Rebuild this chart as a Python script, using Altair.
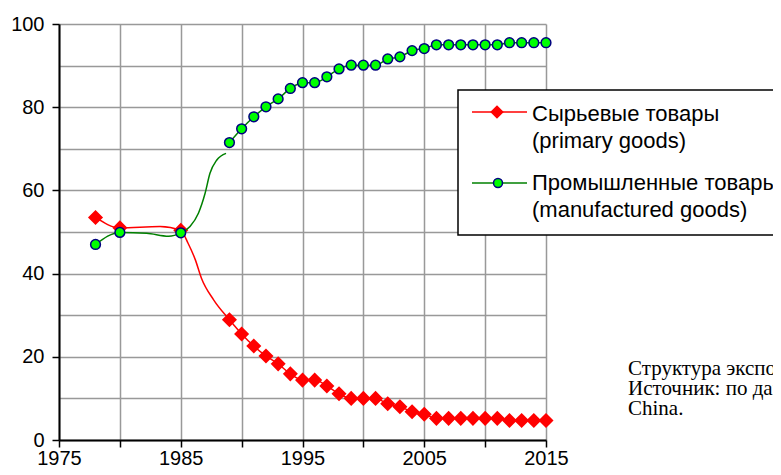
import altair as alt
import pandas as pd

# ---- data ----
marker_years = [1978, 1980, 1985, 1989, 1990, 1991, 1992, 1993, 1994, 1995, 1996,
                1997, 1998, 1999, 2000, 2001, 2002, 2003, 2004, 2005, 2006, 2007,
                2008, 2009, 2010, 2011, 2012, 2013, 2014, 2015]
primary = [53.5, 51.0, 50.4, 28.9, 25.5, 22.6, 20.2, 18.3, 15.9, 14.4, 14.4,
           13.0, 11.1, 10.0, 10.0, 10.0, 8.7, 8.0, 6.8, 6.2, 5.2, 5.2,
           5.2, 5.2, 5.2, 5.2, 4.7, 4.7, 4.7, 4.7]
manufactured = [47.0, 49.9, 49.8, 71.5, 74.8, 77.7, 80.1, 82.0, 84.5, 85.9, 85.9,
                87.3, 89.2, 90.1, 90.1, 90.1, 91.6, 92.1, 93.6, 94.1, 95.0, 95.0,
                95.0, 95.0, 95.0, 95.0, 95.5, 95.5, 95.5, 95.5]

# points along the smoothed curves between markers
primary_curve_years = [1983.3, 1985.6, 1986.2, 1986.7, 1987.7]
primary_curve_vals = [51.3, 47.3, 43.3, 38.9, 33.7]
manuf_curve_years = [1982.2, 1984.0, 1985.76, 1986.45, 1987.0, 1987.4, 1987.96, 1988.72]
manuf_curve_vals = [49.7, 49.0, 51.3, 54.5, 59.3, 64.1, 67.3, 68.9]

series_names = ["Сырьевые товары", "Промышленные товары"]
legend_lines = [["Сырьевые товары", "(primary goods)"],
                ["Промышленные товары", "(manufactured goods)"]]
note_lines = ["Структура экспорта", "Источник: по данным", "China."]

x_ticks = [1975, 1980, 1985, 1990, 1995, 2000, 2005, 2010, 2015]
y_ticks = [0, 10, 20, 30, 40, 50, 60, 70, 80, 90, 100]

# ---- tables ----
markers = pd.DataFrame({
    "year": marker_years * 2,
    "value": primary + manufactured,
    "series": [series_names[0]] * len(marker_years) + [series_names[1]] * len(marker_years),
})

rows = []
for y, v in zip(marker_years + primary_curve_years, primary + primary_curve_vals):
    rows.append({"year": y, "value": v, "seg": "p"})
for y, v in zip(marker_years + manuf_curve_years, manufactured + manuf_curve_vals):
    rows.append({"year": y, "value": v, "seg": "m1" if y < 1988.9 else "m2"})
lines = pd.DataFrame(rows).sort_values("year")

FONT = "Liberation Sans"

x_enc = alt.X("year:Q", scale=alt.Scale(domain=[1975, 2015], nice=False, zero=False),
              axis=alt.Axis(values=x_ticks, format="d", title=None,
                            labelExpr="datum.value % 10 == 5 ? datum.label : ''",
                            labelFlush=False, labelOverlap=False,
                            tickSize=7, tickWidth=1.5, tickColor="black",
                            domainColor="black", domainWidth=2,
                            gridColor="#999999", gridWidth=1.5,
                            labelFont=FONT, labelFontSize=20, labelColor="black",
                            labelPadding=1, zindex=0))
y_enc = alt.Y("value:Q", scale=alt.Scale(domain=[0, 100], nice=False, zero=False),
              axis=alt.Axis(values=y_ticks, title=None,
                            labelExpr="datum.value % 20 == 0 ? datum.label : ''",
                            labelFlush=False, labelOverlap=False,
                            tickOpacity={"condition": {"test": "datum.value % 20 == 0", "value": 1}, "value": 0},
                            tickSize=7, tickWidth=1.5, tickColor="black",
                            domainColor="black", domainWidth=2,
                            gridColor="#999999", gridWidth=1.5,
                            labelFont=FONT, labelFontSize=20, labelColor="black",
                            labelPadding=8, zindex=0))

red_line = alt.Chart(lines[lines.seg == "p"]).mark_line(
    color="#FF0000", strokeWidth=1.5, interpolate="monotone").encode(
    x=x_enc, y=y_enc, order="year:Q")
red_pts = alt.Chart(markers[markers.series == series_names[0]]).mark_point(
    shape="diamond", filled=True, fill="#FF0000", stroke="#FF0000", size=150, opacity=1).encode(
    x=x_enc, y=y_enc)
green_line = alt.Chart(lines[lines.seg != "p"]).mark_line(
    color="#008000", strokeWidth=1.5, interpolate="monotone").encode(
    x=x_enc, y=y_enc, detail="seg:N", order="year:Q")
green_pts = alt.Chart(markers[markers.series == series_names[1]]).mark_point(
    shape="circle", filled=True, fill="#00FF00", stroke="#000080", strokeWidth=1.5,
    size=95, opacity=1).encode(x=x_enc, y=y_enc)

# ---- legend (drawn by hand) ----
one = pd.DataFrame({"a": [0]})
leg_box = alt.Chart(one).mark_rect(
    fill="white", stroke="black", strokeWidth=1.5).encode(
    x=alt.value(399), x2=alt.value(760), y=alt.value(66), y2=alt.value(211))
leg_red_line = alt.Chart(one).mark_rule(color="#FF0000", strokeWidth=1.5).encode(
    x=alt.value(413), x2=alt.value(468), y=alt.value(88))
leg_red_pt = alt.Chart(one).mark_point(
    shape="diamond", filled=True, fill="#FF0000", stroke="#FF0000", size=115, opacity=1).encode(
    x=alt.value(438), y=alt.value(88))
leg_green_line = alt.Chart(one).mark_rule(color="#008000", strokeWidth=1.5).encode(
    x=alt.value(413), x2=alt.value(468), y=alt.value(159))
leg_green_pt = alt.Chart(one).mark_point(
    shape="circle", filled=True, fill="#00FF00", stroke="#000080", strokeWidth=1.5, size=80, opacity=1).encode(
    x=alt.value(439), y=alt.value(159))

leg_texts = []
for (l1, l2), base in zip(legend_lines, [97, 166]):
    for txt, dy in [(l1, 0), (l2, 27)]:
        leg_texts.append(alt.Chart(pd.DataFrame({"t": [txt]})).mark_text(
            align="left", baseline="alphabetic", font=FONT, fontSize=22, color="black").encode(
            x=alt.value(473), y=alt.value(base + dy), text="t:N"))

note_texts = []
for i, txt in enumerate(note_lines):
    note_texts.append(alt.Chart(pd.DataFrame({"t": [txt]})).mark_text(
        align="left", baseline="alphabetic", font="Liberation Serif", fontSize=21, color="black").encode(
        x=alt.value(569), y=alt.value(351 + 20 * i), text="t:N"))

chart = alt.layer(
    red_line, red_pts, green_line, green_pts,
    leg_box, leg_red_line, leg_red_pt, leg_green_line, leg_green_pt,
    *leg_texts, *note_texts
).properties(
    width=487, height=416,
    autosize=alt.AutoSizeParams(type="none"),
    padding={"left": 51, "top": 16, "right": 227, "bottom": 27},
    background="white",
).configure_view(stroke=None)

chart.save("out.html", embed_options={"renderer": "svg", "actions": False})
